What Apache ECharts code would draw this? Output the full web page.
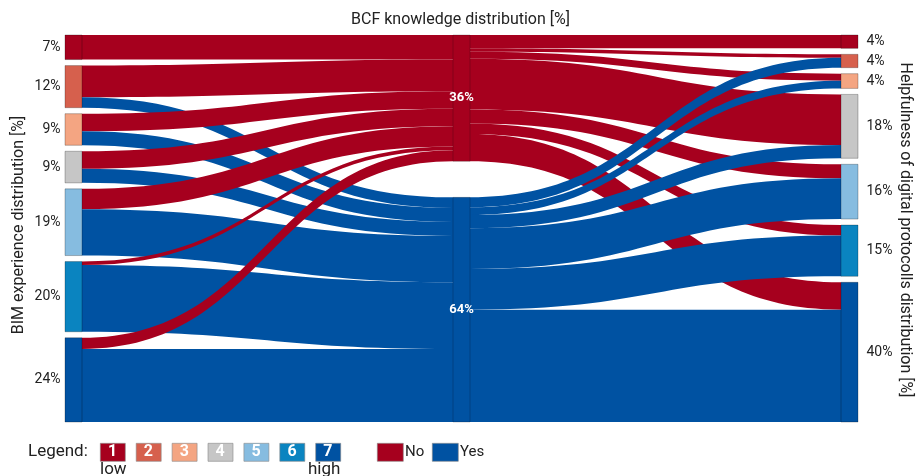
<!DOCTYPE html>
<html>
<head>
<meta charset="utf-8">
<script src="https://cdn.jsdelivr.net/npm/echarts@6/dist/echarts.min.js"></script>
<style>
  html, body { margin: 0; padding: 0; background: #fff; }
  #chart { width: 921px; height: 476px; }
</style>
</head>
<body>
<div id="chart"></div>
<script>
// BIM experience levels (left), BCF knowledge (middle), helpfulness (right)
const levels = ['1', '2', '3', '4', '5', '6', '7']
const knowledge = ['No', 'Yes']
const levelColors = ['#a6001e', '#d6604d', '#f4a582', '#c6c6c6', '#86bce0', '#0a84c0', '#0052a2']
const knowledgeColors = ['#a6001e', '#0052a2']

// flow values in % of respondents
const bimToNo = [7, 9, 5, 5, 5.8, 1, 3.2]
const bimToYes = [0, 3, 4, 4, 13.2, 19, 20.8]
const noToHelp = [3.8, 1, 2, 14.4, 4, 3, 7.8]
const yesToHelp = [0, 2.8, 2.2, 3.8, 11.6, 11.6, 32]

const font = 'Roboto, "Noto Sans", sans-serif'
const plotTop = 35, plotBottom = 54, gap = 6
const plotH = 476 - plotTop - plotBottom
const ky = (plotH - (levels.length - 1) * gap) / 100
const yesTotal = bimToYes.reduce((a, b) => a + b, 0)

const nodes = []
levels.forEach((l, i) => nodes.push({ name: 'L' + l, itemStyle: { color: levelColors[i] } }))
knowledge.forEach((k, i) => nodes.push({
  name: k,
  itemStyle: { color: knowledgeColors[i], borderColor: 'rgba(0,0,0,0.2)' },
  // No at top, Yes pushed to the bottom like the original
  localY: i === 0 ? 0 : (plotH - yesTotal * ky) / plotH
}))
levels.forEach((l, i) => nodes.push({ name: 'R' + l, itemStyle: { color: levelColors[i] } }))

const links = []
const addLink = (source, target, value, color) => {
  if (value > 0) links.push({ source, target, value, lineStyle: { color } })
}
levels.forEach((l, i) => {
  addLink('L' + l, 'No', bimToNo[i], knowledgeColors[0])
  addLink('L' + l, 'Yes', bimToYes[i], knowledgeColors[1])
})
// right side: the blue flows sit on top of the red ones
levels.forEach((l, i) => addLink('No', 'R' + l, noToHelp[i], knowledgeColors[0]))
levels.forEach((l, i) => addLink('Yes', 'R' + l, yesToHelp[i], knowledgeColors[1]))

// legend built from graphic elements
const legend = [
  { type: 'text', x: 28, y: 452, style: { text: 'Legend:', font: '17px ' + font, fill: '#222', verticalAlign: 'middle' } },
  { type: 'text', x: 100, y: 470, style: { text: 'low', font: '17px ' + font, fill: '#222', verticalAlign: 'middle' } },
  { type: 'text', x: 308, y: 470, style: { text: 'high', font: '17px ' + font, fill: '#222', verticalAlign: 'middle' } }
]
levels.forEach((l, i) => {
  const x = 100 + i * 35.9
  legend.push({ type: 'rect', left: x, top: 443, shape: { width: 25, height: 18 },
    style: { fill: levelColors[i], stroke: '#888', lineWidth: 0.6 } })
  legend.push({ type: 'text', x: x + 12.5, y: 452, style: { text: l, font: 'bold 16px ' + font,
    fill: '#fff', align: 'center', verticalAlign: 'middle' } })
})
knowledge.forEach((k, i) => {
  const x = 377 + i * 55
  legend.push({ type: 'rect', left: x, top: 443, shape: { width: 26, height: 18 },
    style: { fill: knowledgeColors[i], stroke: '#888', lineWidth: 0.6 } })
  legend.push({ type: 'text', x: x + 28, y: 452, style: { text: k, font: '15px ' + font, fill: '#222', verticalAlign: 'middle' } })
})

const chart = echarts.init(document.getElementById('chart'))
chart.setOption({
  animation: false,
  title: {
    text: 'BCF knowledge distribution [%]',
    left: 'center', top: 7,
    textStyle: { fontFamily: font, fontSize: 16, fontWeight: 'normal', color: '#222' }
  },
  graphic: [
    { type: 'text', x: 19, y: 225, rotation: Math.PI / 2,
      style: { text: 'BIM experience distribution [%]', font: '16px ' + font, fill: '#222',
        align: 'center', verticalAlign: 'middle' } },
    { type: 'text', x: 905, y: 230, rotation: -Math.PI / 2,
      style: { text: 'Helpfulness of digital protocolls distribution [%]', font: '16px ' + font, fill: '#222',
        align: 'center', verticalAlign: 'middle' } },
    ...legend
  ],
  series: [{
    type: 'sankey',
    left: 65, right: 63, top: plotTop, bottom: plotBottom,
    nodeWidth: 17,
    nodeGap: gap,
    layoutIterations: 0,
    draggable: false,
    emphasis: { disabled: true },
    itemStyle: { borderColor: 'rgba(0,0,0,0.25)', borderWidth: 1 },
    lineStyle: { opacity: 1, curveness: 0.5 },
    label: {
      fontFamily: font, fontSize: 14, color: '#222',
      formatter: p => Math.round(p.value) + '%'
    },
    levels: [
      { depth: 0, label: { position: 'left', distance: 4 } },
      { depth: 1, label: { position: 'inside', color: '#fff', fontWeight: 'bold', fontSize: 13 } },
      { depth: 2, label: { position: 'right', distance: 8 } }
    ],
    data: nodes,
    links
  }]
})
</script>
</body>
</html>
